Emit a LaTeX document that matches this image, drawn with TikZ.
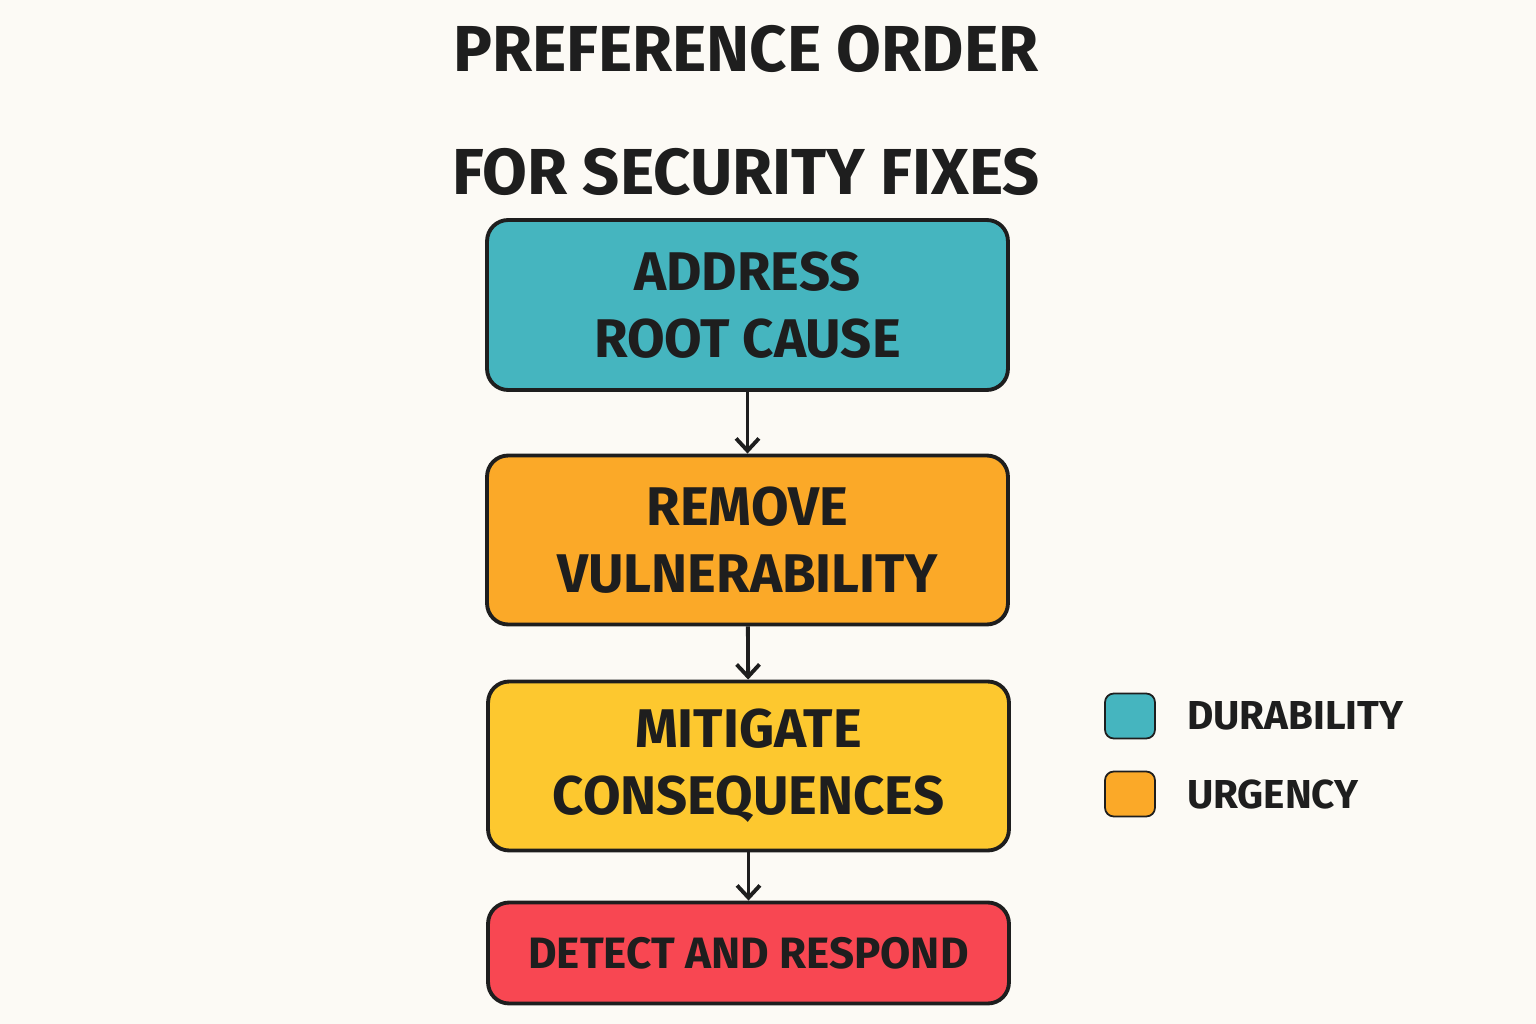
\documentclass[tikz,border=0pt]{standalone}
\usepackage{fontspec}
\setmainfont{Fira Sans}
\usetikzlibrary{positioning,arrows.meta,calc}
\definecolor{bgcol}{HTML}{FCFAF5}
\definecolor{tealc}{HTML}{45B5BF}
\definecolor{orangec}{HTML}{FBA928}
\definecolor{yellowc}{HTML}{FDC82F}
\definecolor{redc}{HTML}{F84752}
\definecolor{inkc}{HTML}{1E1E1E}
\begin{document}
\begin{tikzpicture}[
    x=0.02cm, y=-0.02cm,
    stage/.style={rectangle, rounded corners=12pt, draw=inkc, line width=2.2pt,
        minimum width=10.42cm, text centered, align=center,
        font=\fontsize{31}{38}\selectfont\bfseries, text=inkc},
    key/.style={rectangle, rounded corners=5pt, draw=inkc, line width=1pt,
        minimum width=1cm, minimum height=0.9cm},
    keytext/.style={right=0.5cm of #1, anchor=west, font=\fontsize{23}{28}\selectfont\bfseries, text=inkc},
    arrow/.style={line width=2.2pt, draw=inkc, -{Straight Barb[length=7pt,width=13pt]}}
]
    \fill[bgcol] (0,0) rectangle (1536,1024);
    \useasboundingbox (0,0) rectangle (1536,1024);

    % Title
    \node[font=\fontsize{37}{70}\selectfont\bfseries, text=inkc, align=center] (title) at (746,110)
        {PREFERENCE ORDER\\FOR SECURITY FIXES};

    % Stages
    \node[stage, fill=tealc, minimum height=3.4cm] (root) at (747.5,305) {ADDRESS\\ROOT CAUSE};
    \node[stage, fill=orangec, minimum height=3.38cm] (vuln) at (747.5,540) {REMOVE\\VULNERABILITY};
    \node[stage, fill=yellowc, minimum height=3.38cm] (mitig) at (748.5,766) {MITIGATE\\CONSEQUENCES};
    \node[stage, fill=redc, minimum height=2.02cm, font=\fontsize{25}{30}\selectfont\bfseries] (detect) at (748.5,953) {DETECT AND RESPOND};

    % Connections
    \draw[arrow] (root) -- (vuln);
    \draw[arrow] (vuln) -- (mitig);
    \draw[arrow] (mitig) -- (detect);

    % Legend
    \node[key, fill=tealc] (durkey) at (1130,716) {};
    \node[key, fill=orangec] (urgkey) at (1130,794) {};
    \node[keytext=durkey] (durtext) {DURABILITY};
    \node[keytext=urgkey] (urgtext) {URGENCY};
\end{tikzpicture}
\end{document}
